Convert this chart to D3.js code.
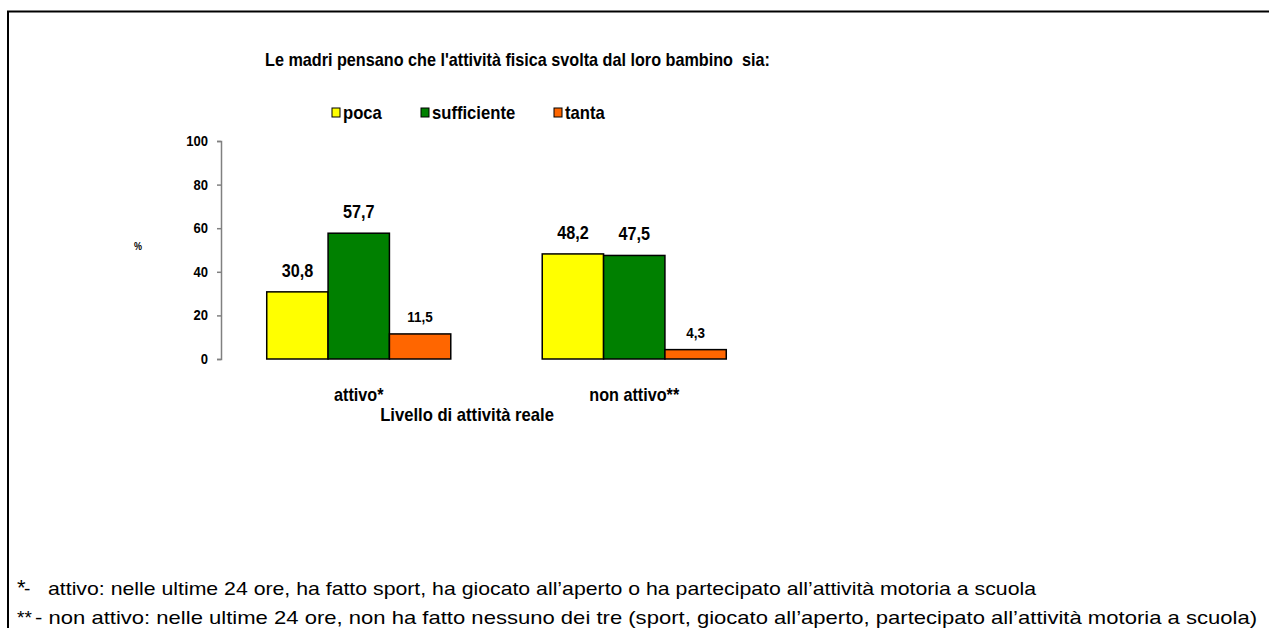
<!DOCTYPE html>
<html>
<head>
<meta charset="utf-8">
<script src="https://cdn.jsdelivr.net/npm/d3@7"></script>
<style>
  html, body { margin: 0; padding: 0; background: #fff; }
  svg { display: block; }
  .narrow { font-family: "Liberation Sans", Arial, sans-serif; font-weight: bold; white-space: pre; }
  .foot { font-family: "Liberation Sans", Arial, sans-serif; white-space: pre; }
</style>
</head>
<body>
<svg id="chart" width="1269" height="628"></svg>
<script>
const categories = ["attivo*", "non attivo**"];
const seriesNames = ["poca", "sufficiente", "tanta"];
const poca = [30.8, 48.2];
const sufficiente = [57.7, 47.5];
const tanta = [11.5, 4.3];
const yTicks = [0, 20, 40, 60, 80, 100];
const colors = ["#FFFF00", "#008000", "#FF6600"];
const title = "Le madri pensano che l'attività fisica svolta dal loro bambino  sia:";
const xTitle = "Livello di attività reale";
const yTitle = "%";
const notes = [
  ["*", "-", "attivo: nelle ultime 24 ore, ha fatto sport, ha giocato all’aperto o ha partecipato all’attività motoria a scuola"],
  ["**", "", "- non attivo: nelle ultime 24 ore, non ha fatto nessuno dei tre (sport, giocato all’aperto, partecipato all’attività motoria a scuola)"]
];

const values = [poca, sufficiente, tanta];
const SX = 0.9; // condensed look
const svg = d3.select("#chart");

function ntext(parent, x, y, size, anchor, str) {
  return parent.append("text").attr("class", "narrow")
    .attr("transform", `translate(${x},${y}) scale(${SX},1)`)
    .attr("font-size", size).attr("text-anchor", anchor || "start").attr("fill", "#000")
    .text(str);
}

// outer frame (top + left visible)
svg.append("rect").attr("x", 8).attr("y", 11.5).attr("width", 1400).attr("height", 800)
  .attr("fill", "none").attr("stroke", "#000").attr("stroke-width", 2);

const x0 = d3.scaleBand().domain(categories).range([221, 772]).paddingInner(0.332).paddingOuter(0.166);
const x1 = d3.scaleBand().domain(seriesNames).range([0, x0.bandwidth()]);
const y = d3.scaleLinear().domain([0, 100]).range([359, 141]);

// y axis
const yAxis = d3.axisLeft(y).tickValues(yTicks).tickSize(4).tickFormat("");
const gy = svg.append("g").attr("transform", "translate(221,0)").call(yAxis);
gy.select(".domain").attr("stroke", "#808080").attr("stroke-width", 1.5);
gy.selectAll(".tick line").attr("stroke", "#808080").attr("stroke-width", 1.5);
yTicks.forEach(t => ntext(svg, 208, y(t) + 5, 14.5, "end", d3.format("d")(t)));

// bars
seriesNames.forEach((s, si) => {
  categories.forEach((c, ci) => {
    const v = values[si][ci];
    svg.append("rect")
      .attr("x", x0(c) + x1(s))
      .attr("y", y(v))
      .attr("width", x1.bandwidth())
      .attr("height", y(0) - y(v))
      .attr("fill", colors[si])
      .attr("stroke", "#000").attr("stroke-width", 1.5);
    const small = v < 20;
    ntext(svg, x0(c) + x1(s) + x1.bandwidth() / 2, y(v) - (small ? 12 : 15),
      small ? 15 : 18, "middle", String(v).replace(".", ","));
  });
});

// category labels
categories.forEach(c => ntext(svg, x0(c) + x0.bandwidth() / 2, 401, 18, "middle", c));

// axis titles
ntext(svg, 467, 421, 18.5, "middle", xTitle);
ntext(svg, 138, 250, 10, "middle", yTitle);

// title
ntext(svg, 265, 66, 18, "start", title);

// legend
const legX = [332, 421, 554];
seriesNames.forEach((s, i) => {
  svg.append("rect").attr("x", legX[i]).attr("y", 108).attr("width", 8).attr("height", 9)
    .attr("fill", colors[i]).attr("stroke", "#000").attr("stroke-width", 1);
  ntext(svg, legX[i] + 11, 119, 18.5, "start", s);
});

// footnotes
const nb = [595, 624];
const noteStart = [48, 35];
const noteEnd = [1036, 1257];
notes.forEach((n, i) => {
  const t = svg.append("text").attr("class", "foot").attr("font-size", 19).attr("y", nb[i]);
  if (i === 0) {
    t.append("tspan").attr("x", 17).attr("font-size", 22).text(n[0]);
    t.append("tspan").attr("x", 24).text(n[1]);
  } else {
    t.append("tspan").attr("x", 17).text(n[0]);
  }
  svg.append("text").attr("class", "foot").attr("font-size", 19)
    .attr("x", noteStart[i]).attr("y", nb[i])
    .attr("textLength", noteEnd[i] - noteStart[i]).attr("lengthAdjust", "spacingAndGlyphs")
    .text(n[2]);
});
</script>
</body>
</html>
